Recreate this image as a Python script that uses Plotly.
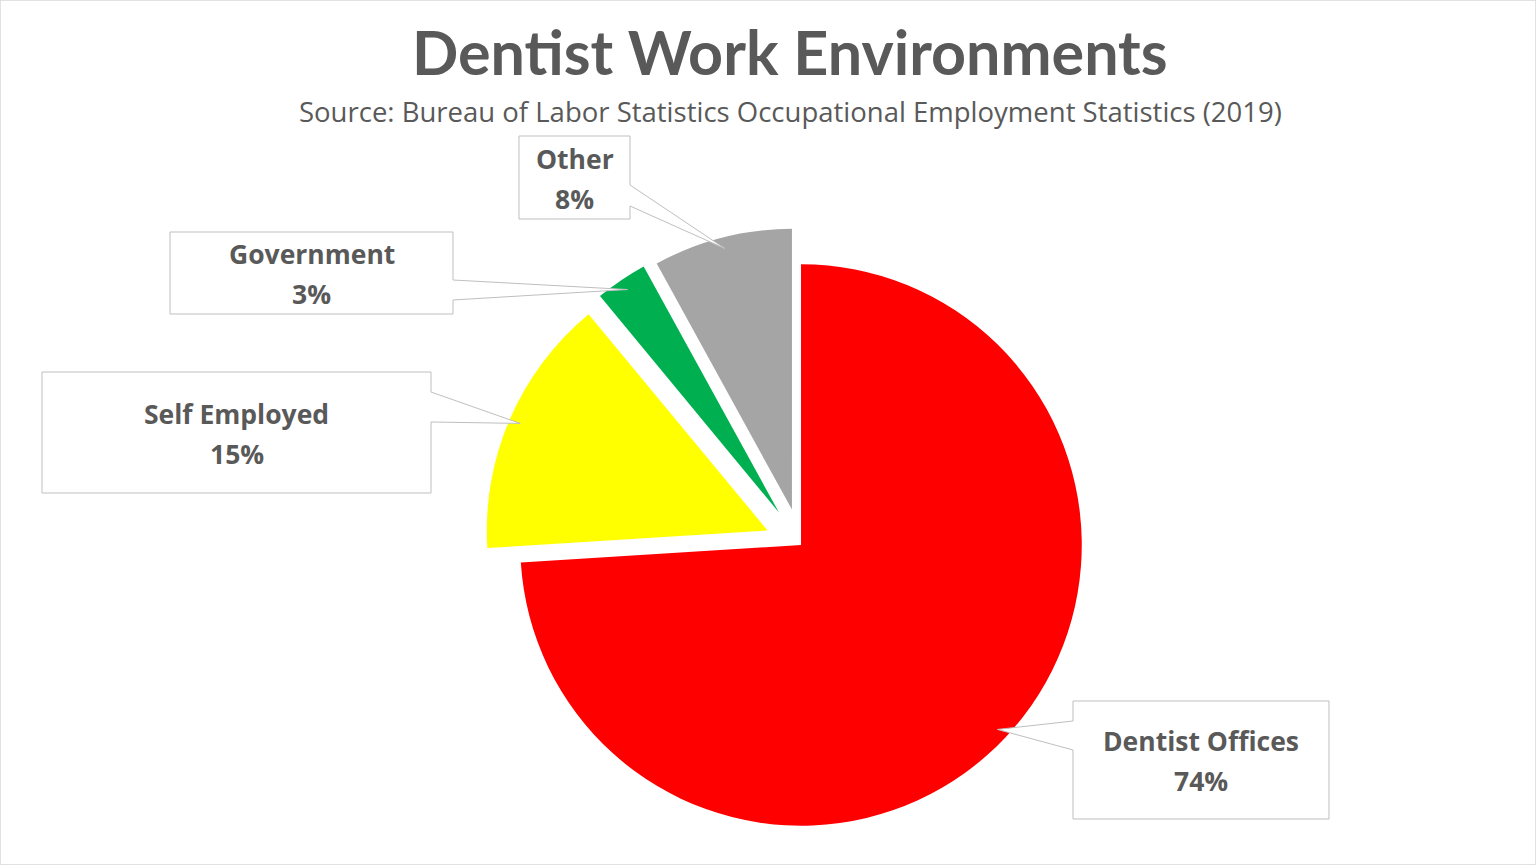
import math
import plotly.graph_objects as go

W, H = 1536, 865

# data
categorias = ["Dentist Offices", "Self Employed", "Government", "Other"]
valores = [74, 15, 3, 8]
cores = ["#FF0000", "#FFFF00", "#00B050", "#A5A5A5"]
pulls = [0, 0.13, 0.14, 0.13]

titulo = "Dentist Work Environments"
subtitulo = "Source: Bureau of Labor Statistics Occupational Employment Statistics (2019)"

TXT = "#595959"
BORDA = "#BFBFBF"

# label boxes in pixels: x0, y0, x1, y1, side of the pointer, pointer base (ya, yb)
caixas = [
    (1073, 701, 1329, 819, "left", 721, 750),
    (42, 372, 431, 493, "right", 392, 422),
    (170, 232, 453, 314, "right", 280, 300),
    (519, 136, 630, 219, "right", 185, 206),
]

dom_x = [0.30, 0.743]
dom_y = [0.0, 0.740]

fig = go.Figure(go.Pie(
    labels=categorias,
    values=valores,
    marker=dict(colors=cores, line=dict(width=0)),
    pull=pulls,
    sort=False,
    direction="clockwise",
    rotation=0,
    textinfo="none",
    hoverinfo="label+percent",
    showlegend=False,
    domain=dict(x=dom_x, y=dom_y),
))

# same geometry plotly uses, to find where each callout points
cx = W * sum(dom_x) / 2
cy = H * (1 - sum(dom_y) / 2)
r = min(W * (dom_x[1] - dom_x[0]), H * (dom_y[1] - dom_y[0])) / (2 + 2 * max(pulls))
total = sum(valores)


def px(x, y):
    return x / W, 1 - y / H


shapes = []
annotations = []
acum = 0
for nome, v, p, cx_box in zip(categorias, valores, pulls, caixas):
    ang = 2 * math.pi * (acum + v / 2) / total
    acum += v
    sx = cx + p * r * math.sin(ang)
    sy = cy - p * r * math.cos(ang)
    tx = sx + 0.96 * r * math.sin(ang)
    ty = sy - 0.96 * r * math.cos(ang)

    x0, y0, x1, y1, lado, ya, yb = cx_box
    if lado == "right":
        pts = [(x0, y0), (x1, y0), (x1, ya), (tx, ty), (x1, yb), (x1, y1), (x0, y1)]
    else:
        pts = [(x0, y0), (x1, y0), (x1, y1), (x0, y1), (x0, yb), (tx, ty), (x0, ya)]
    path = "M " + " L ".join("%.5f,%.5f" % px(a, b) for a, b in pts) + " Z"
    shapes.append(dict(type="path", xref="paper", yref="paper", path=path,
                       fillcolor="white", line=dict(color=BORDA, width=1)))

    mx = (x0 + x1) / 2
    my = (y0 + y1) / 2
    pct = "%d%%" % round(v / total * 100)
    for texto, dy in [(nome, -19), (pct, 21)]:
        ax, ay = px(mx, my + dy)
        annotations.append(dict(x=ax, y=ay, xref="paper", yref="paper", text="<b>%s</b>" % texto,
                                showarrow=False, xanchor="center", yanchor="middle",
                                font=dict(family="Open Sans", size=26.5, color=TXT)))

# titles
tx_, ty_ = px(790, 51)
annotations.append(dict(x=tx_, y=ty_, xref="paper", yref="paper", text="<b>%s</b>" % titulo,
                        showarrow=False, xanchor="center", yanchor="middle",
                        font=dict(family="Lato", size=61, color=TXT)))
tx_, ty_ = px(790, 112)
annotations.append(dict(x=tx_, y=ty_, xref="paper", yref="paper", text=subtitulo,
                        showarrow=False, xanchor="center", yanchor="middle",
                        font=dict(family="Open Sans", size=27.5, color=TXT)))

# chart border
shapes.append(dict(type="rect", xref="paper", yref="paper", x0=0, y0=0, x1=1, y1=1,
                   line=dict(color="#D9D9D9", width=1.5), fillcolor="rgba(0,0,0,0)"))

fig.update_layout(
    width=W,
    height=H,
    margin=dict(l=0, r=0, t=0, b=0),
    paper_bgcolor="white",
    plot_bgcolor="white",
    shapes=shapes,
    annotations=annotations,
)

fig.write_html("out.html", config={'displayModeBar': False},
               post_script="document.body.style.margin='0';")
